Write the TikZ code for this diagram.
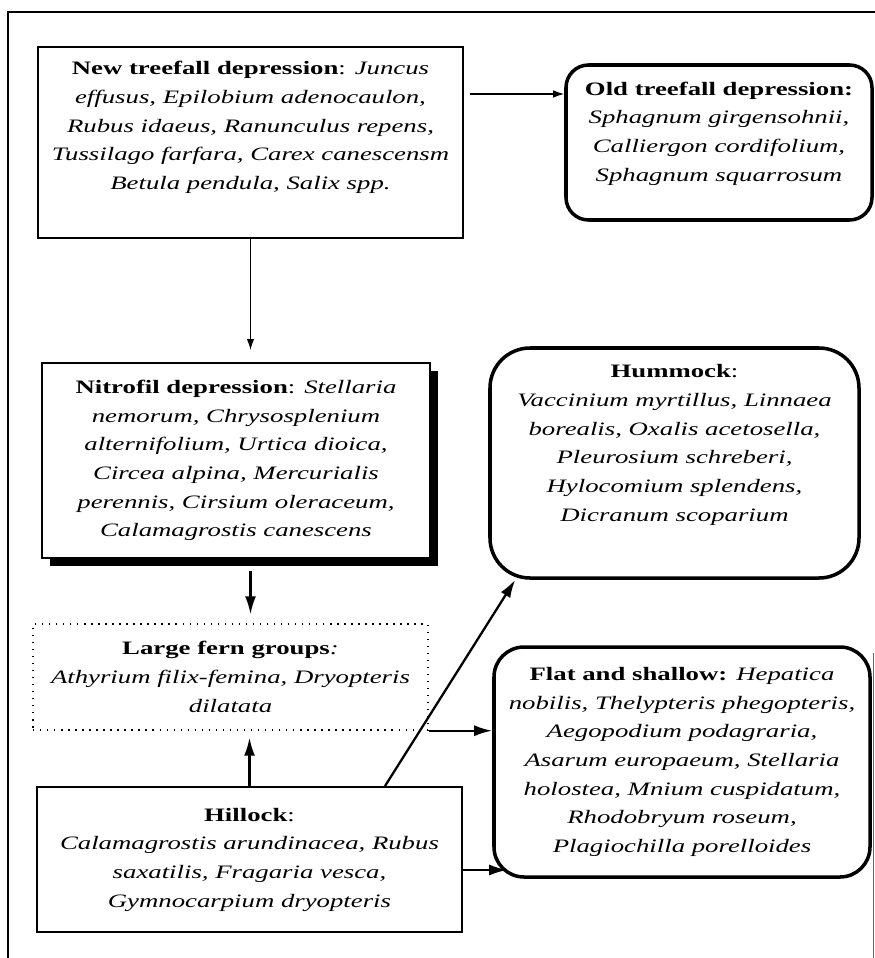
\documentclass[tikz,border=0pt]{standalone}
\usepackage{fontspec}
\setmainfont{Liberation Serif}[FakeStretch=1.41]
\usepackage{tikz}
\usetikzlibrary{arrows.meta, shadows, calc}

\tikzset{
  txt/.style={align=center, inner sep=2pt, font=\fontsize{10.8}{16.3}\selectfont},
  plainbox/.style={txt, draw, fill=white, line width=1.1pt},
  roundbox/.style={txt, draw, line width=2pt, rounded corners=#1},
  fernbox/.style={txt, draw, line width=0.8pt, dash pattern=on 0.8pt off 3.2pt},
  arr/.style={-{Latex[length=3.6mm, width=2.2mm]}, line width=1.3pt},
  thinarr/.style={-{Latex[length=2.2mm, width=1.5mm]}, line width=0.8pt}
}

\begin{document}
\begin{tikzpicture}
      \useasboundingbox (0, 0) rectangle (17.5, -19.16);
      \fill[white] (0, 0) rectangle (17.5, -19.16);
      \draw[line width=1pt] (17.5, -0.24) -- (0.16, -0.24) -- (0.16, -19.16);
      \draw[line width=0.5pt, black!60] (17.46, -13.06) -- (17.46, -19.16);

      \node[plainbox, minimum width=8.5cm, minimum height=3.82cm, text depth=0.68cm] (newdep) at (5.01, -2.85)
        {\textbf{New treefall depression}: \textit{Juncus}\\ \textit{effusus, Epilobium adenocaulon,}\\ \textit{Rubus idaeus, Ranunculus repens,}\\ \textit{Tussilago farfara, Carex canescensm}\\ \textit{Betula pendula, Salix spp.}};
      \node[roundbox=0.45cm, minimum width=6.12cm, minimum height=3.1cm, text depth=0.44cm] (olddep) at (14.38, -2.85)
        {\textbf{Old treefall depression:}\\ \textit{Sphagnum girgensohnii,}\\ \textit{Calliergon cordifolium,}\\ \textit{Sphagnum squarrosum}};
      \node[plainbox, minimum width=7.76cm, minimum height=3.9cm,
        drop shadow={shadow xshift=0.16cm, shadow yshift=-0.16cm, fill=black, opacity=1}] (nitro) at (4.72, -9.21)
        {\textbf{Nitrofil depression}: \textit{Stellaria}\\ \textit{nemorum, Chrysosplenium}\\ \textit{alternifolium, Urtica dioica,}\\ \textit{Circea alpina, Mercurialis}\\ \textit{perennis, Cirsium oleraceum,}\\ \textit{Calamagrostis canescens}};
      \node[roundbox=0.8cm, minimum width=7.38cm, minimum height=4.6cm, text depth=0.8cm] (hummock) at (13.49, -9.26)
        {\textbf{Hummock}:\\ \textit{Vaccinium myrtillus, Linnaea}\\ \textit{borealis, Oxalis acetosella,}\\ \textit{Pleurosium schreberi,}\\ \textit{Hylocomium splendens,}\\ \textit{Dicranum scoparium}};
      \node[fernbox, minimum width=7.9cm, minimum height=2.12cm] (fern) at (4.61, -13.54)
        {\textbf{Large fern groups}\textit{:}\\ \textit{Athyrium filix-femina, Dryopteris}\\ \textit{dilatata}};
      \node[roundbox=0.6cm, minimum width=7.52cm, minimum height=4.6cm] (flat) at (13.64, -15.24)
        {\textbf{Flat and shallow:} \textit{Hepatica}\\ \textit{nobilis, Thelypteris phegopteris,}\\ \textit{Aegopodium podagraria,}\\ \textit{Asarum europaeum, Stellaria}\\ \textit{holostea, Mnium cuspidatum,}\\ \textit{Rhodobryum roseum,}\\ \textit{Plagiochilla porelloides}};
      \node[plainbox, minimum width=8.5cm, minimum height=2.9cm] (hillock) at (4.99, -17.19)
        {\textbf{Hillock}:\\ \textit{Calamagrostis arundinacea, Rubus}\\ \textit{saxatilis, Fragaria vesca,}\\ \textit{Gymnocarpium dryopteris}};

      \draw[thinarr, shorten <=0.12cm] ([yshift=0.97cm]newdep.east) -- ([yshift=0.97cm]newdep.east -| olddep.west);
      \draw[thinarr, shorten >=0.24cm] (newdep.south) -- (newdep.south |- nitro.north);
      \draw[arr, shorten <=0.24cm, shorten >=0.18cm] (newdep.south |- nitro.south) -- (newdep.south |- fern.north);
      \draw[arr, shorten >=0.14cm] (hillock.north) -- (hillock.north |- fern.south);
      \draw[arr] (fern.south east) -- (fern.south east -| flat.west);
      \draw[arr] ([yshift=-0.21cm]hillock.east) -- ($(hillock.east -| flat.west)+(0.3, -0.21)$);
      \draw[arr] ([xshift=2.71cm]hillock.north) -- ($(hummock.south west)+(0.54, 0)$);

    \end{tikzpicture}
\end{document}
